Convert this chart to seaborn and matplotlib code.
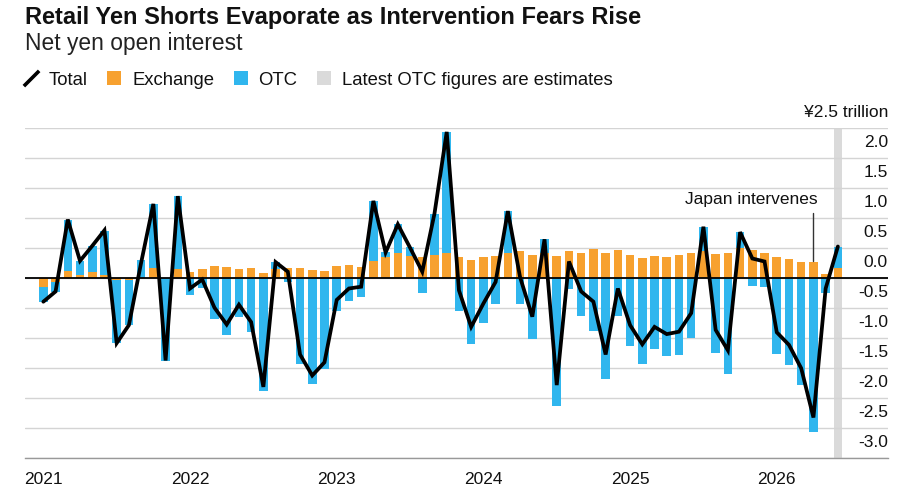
import numpy as np
import pandas as pd
import matplotlib
matplotlib.use("Agg")
import matplotlib.pyplot as plt
import matplotlib.transforms as mtransforms
from matplotlib.lines import Line2D
from matplotlib.patches import Patch
import seaborn as sns

# Monthly values, Jan 2021 .. Jun 2026 (yen trillion)
exchange = [-0.15, -0.07, 0.12, 0.04, 0.10, 0.04, -0.04, -0.04, 0.00, 0.17,
            0.00, 0.14, 0.10, 0.14, 0.19, 0.18, 0.14, 0.16, 0.08, 0.14,
            0.16, 0.17, 0.13, 0.12, 0.19, 0.22, 0.18, 0.28, 0.34, 0.41,
            0.36, 0.35, 0.38, 0.42, 0.34, 0.29, 0.35, 0.37, 0.41, 0.45,
            0.38, 0.42, 0.36, 0.44, 0.41, 0.48, 0.42, 0.46, 0.38, 0.33,
            0.37, 0.35, 0.38, 0.42, 0.45, 0.39, 0.42, 0.50, 0.47, 0.42,
            0.35, 0.31, 0.26, 0.26, 0.07, 0.16]
otc = [-0.25, -0.16, 0.85, 0.24, 0.43, 0.74, -1.05, -0.75, 0.29, 1.06,
       -1.38, 1.22, -0.29, -0.17, -0.68, -0.96, -0.65, -0.91, -1.88, 0.12,
       -0.07, -1.44, -1.77, -1.52, -0.56, -0.39, -0.32, 1.00, 0.08, 0.48,
       0.15, -0.26, 0.69, 2.01, -0.56, -1.10, -0.76, -0.44, 0.70, -0.44,
       -1.02, 0.22, -2.14, -0.19, -0.63, -0.89, -1.68, -0.63, -1.13, -1.44,
       -1.19, -1.30, -1.28, -1.01, 0.40, -1.26, -1.61, 0.26, -0.14, -0.16,
       -1.27, -1.46, -1.78, -2.57, -0.26, 0.36]
total = [-0.40, -0.23, 0.97, 0.28, 0.53, 0.79, -1.09, -0.79, 0.25, 1.23,
         -1.38, 1.36, -0.18, -0.03, -0.50, -0.78, -0.45, -0.74, -1.82, 0.26,
         0.10, -1.28, -1.63, -1.41, -0.37, -0.18, -0.15, 1.28, 0.42, 0.89,
         0.50, 0.10, 1.07, 2.43, -0.21, -0.82, -0.43, -0.07, 1.11, 0.01,
         -0.65, 0.64, -1.79, 0.27, -0.23, -0.40, -1.28, -0.18, -0.79, -1.11,
         -0.82, -0.94, -0.90, -0.59, 0.85, -0.87, -1.21, 0.76, 0.32, 0.27,
         -0.91, -1.12, -1.51, -2.33, -0.18, 0.52]
years = ["2021", "2022", "2023", "2024", "2025", "2026"]
y_ticks = [2.5, 2.0, 1.5, 1.0, 0.5, 0.0, -0.5, -1.0, -1.5, -2.0, -2.5, -3.0]
intervention_month = 63
estimate_month = 65

ORANGE = "#F7A12F"
BLUE = "#30B6EE"
GREY_BAND = "#DADADA"
TEXT = "#111111"

df = pd.DataFrame({"month": np.arange(len(total)), "exchange": exchange,
                   "otc": otc, "total": total})

sns.set_theme(style="white")
plt.rcParams["font.family"] = ["Liberation Sans", "DejaVu Sans"]

fig = plt.figure(figsize=(9.07, 4.88), dpi=100)
ax = fig.add_axes([25 / 907, 30.3 / 488, 863 / 907, 330 / 488])

# estimate band
ax.axvspan(estimate_month - 0.35, estimate_month + 0.35, color=GREY_BAND, lw=0, zorder=0)

# stacked bars: exchange next to zero, OTC stacked outward
ex = df["exchange"].to_numpy()
ot = df["otc"].to_numpy()
otc_bottom = np.where(np.sign(ot) == np.sign(ex), ex, 0.0)
ax.bar(df["month"], ex, width=0.7, color=ORANGE, lw=0, zorder=2)
ax.bar(df["month"], ot, bottom=otc_bottom, width=0.7, color=BLUE, lw=0, zorder=2)

ax.axhline(0, color="black", lw=1.3, zorder=3)

sns.lineplot(data=df, x="month", y="total", ax=ax, color="black", lw=2.7,
             zorder=4, solid_joinstyle="miter")

ax.set_xlim(-1.5, 69.1)
ax.set_ylim(-3.0, 2.5)
ax.set_xlabel("")
ax.set_ylabel("")

# gridlines and custom right-hand labels sitting above each line
ax.set_yticks(y_ticks)
ax.set_yticklabels([])
ax.tick_params(axis="y", length=0)
ax.grid(axis="y", color="#D4D4D4", lw=1)
trans = mtransforms.blended_transform_factory(ax.transAxes, ax.transData)
for v in y_ticks:
    lab = "¥2.5 trillion" if v == 2.5 else f"{v:.1f}"
    ax.text(1.0, v + 0.25, lab, transform=trans, ha="right", va="center",
            fontsize=12.5, color=TEXT, clip_on=False)

ax.set_xticks(range(0, 72, 12))
ax.set_xticklabels(years, fontsize=12.5, color=TEXT)
ax.set_xticks(range(0, 69, 3), minor=True)
ax.tick_params(axis="x", which="major", length=8, width=1.2, color="#333333", pad=2)
ax.tick_params(axis="x", which="minor", length=3, width=1, color="#AAAAAA")
for s in ["top", "left", "right"]:
    ax.spines[s].set_visible(False)
ax.spines["bottom"].set_color("#999999")
ax.spines["bottom"].set_linewidth(1)

# annotation
ax.plot([intervention_month, intervention_month], [1.08, 0.28], color="#333333", lw=1, zorder=5)
ax.text(intervention_month + 0.35, 1.3, "Japan intervenes", ha="right", va="center",
        fontsize=12.5, color=TEXT)

# header
fig.text(25 / 907, 1 - 24 / 488, "Retail Yen Shorts Evaporate as Intervention Fears Rise",
         fontsize=17, fontweight="bold", color=TEXT, va="baseline")
fig.text(25 / 907, 1 - 50 / 488, "Net yen open interest", fontsize=16.4, color="#222222",
         va="baseline")

handles = [
    Line2D([], [], color="black", lw=0, marker=[(-1, -1), (1, 1)], markersize=11,
           markeredgewidth=2.6, markeredgecolor="black"),
    Patch(facecolor=ORANGE, edgecolor="none"),
    Patch(facecolor=BLUE, edgecolor="none"),
    Patch(facecolor=GREY_BAND, edgecolor="none"),
]
labels = ["Total", "Exchange", "OTC", "Latest OTC figures are estimates"]
fig.legend(handles, labels, loc="center left", bbox_to_anchor=(24 / 907, 1 - 80 / 488),
           ncol=4, frameon=False, fontsize=13.3, handlelength=0.75, handleheight=0.75,
           handletextpad=0.6, columnspacing=1.05, borderaxespad=0, borderpad=0,
           labelcolor=TEXT)

fig.savefig("out.png", dpi=100)
